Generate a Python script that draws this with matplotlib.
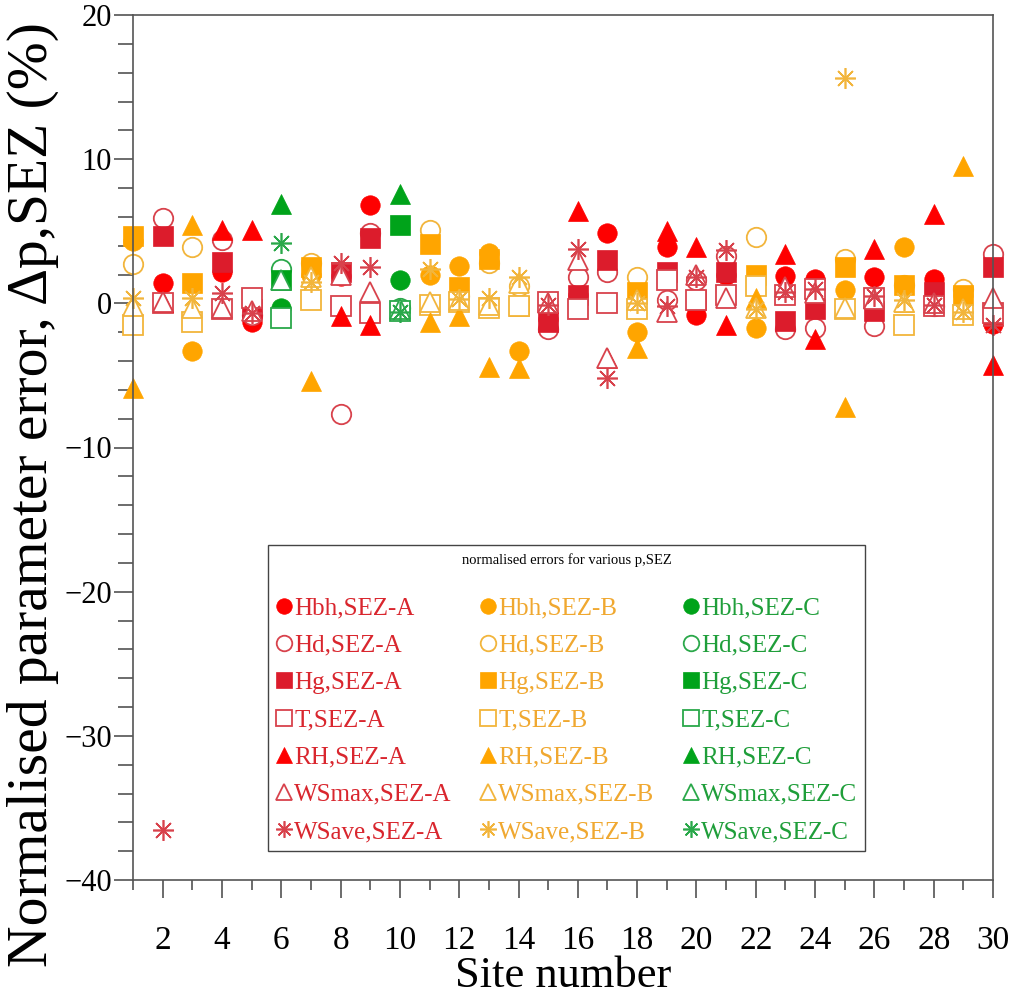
import numpy as np
import matplotlib
matplotlib.use("Agg")
import matplotlib.pyplot as plt
from matplotlib.ticker import MultipleLocator

nan = np.nan
sites = list(range(1, 31))
zone = ["B", "A", "B", "A", "A", "C", "B", "A", "A", "C",
        "B", "B", "B", "B", "A", "A", "A", "B", "A", "A",
        "A", "B", "A", "A", "B", "A", "B", "A", "B", "A"]

Hbh = [4.3, 1.4, -3.3, 2.2, -1.3, -0.3, 2.0, 1.9, 6.8, 1.6,
       2.0, 2.6, 3.5, -3.3, -1.1, 0.6, 4.9, -2.0, 3.9, -0.8,
       2.0, -1.7, 1.9, 1.7, 0.9, 1.8, 3.9, 1.7, 0.6, -1.4]
Hd = [2.7, 5.9, 3.9, 4.4, -0.8, 2.4, 2.8, -7.7, 4.9, -0.3,
      5.1, 0.5, 2.8, 1.2, -1.8, 1.8, 2.2, 1.8, 0.2, 1.6,
      3.3, 4.6, -1.8, -1.7, 3.1, -1.6, 1.3, -0.2, 1.0, 3.4]
Hg = [4.7, 4.7, 1.4, 2.9, -0.4, 1.6, 2.5, 2.2, 4.5, 5.4,
      4.1, 1.1, 3.1, -0.2, -1.3, 0.6, 3.0, 0.8, 2.2, 0.2,
      2.2, 2.0, -1.2, -0.4, 2.5, -0.5, 1.3, 0.8, 0.6, 2.5]
T = [-1.5, 0.0, -1.3, -0.4, 0.4, -1.0, 0.2, -0.2, -0.7, -0.5,
     -0.1, 0.1, -0.3, -0.2, 0.1, -0.4, 0.0, -0.4, 1.6, 0.2,
     0.6, 1.2, 0.6, 1.0, -0.4, 0.4, -1.5, -0.2, -0.8, -0.7]
RH = [-5.9, 0.1, 5.4, 5.1, 5.1, 6.9, -5.4, -0.9, -1.5, 7.6,
      -1.3, -0.9, -4.4, -4.5, 0.0, 6.4, -3.8, -3.1, 5.0, 3.9,
      -1.5, 0.4, 3.4, -2.5, -7.2, 3.8, 0.1, 6.2, 9.5, -4.3]
WSmax = [-0.2, 0.1, -0.3, -0.3, -0.5, 1.6, 1.8, 2.0, 0.8, -0.4,
         0.1, 0.2, -0.1, 1.4, 0.0, 3.0, -3.8, 0.2, -0.6, 2.0,
         0.4, -0.3, 1.1, 0.7, -0.3, 0.3, 0.1, 0.0, -0.4, 0.4]
WSave = [0.4, -36.5, 0.4, 0.7, -0.7, 4.2, 1.5, 2.8, 2.5, -0.6,
         2.4, 0.3, 0.4, 1.8, -0.1, 3.8, -5.2, 0.0, -0.2, 1.8,
         3.7, -0.4, 0.8, 1.0, 15.6, 0.5, 0.2, -0.1, -0.6, -1.5]

params = ["Hbh", "Hd", "Hg", "T", "RH", "WSmax", "WSave"]
param_values = [Hbh, Hd, Hg, T, RH, WSmax, WSave]
zones = ["A", "B", "C"]

# styles
markers = {"Hbh": "o", "Hd": "o", "Hg": "s", "T": "s", "RH": "^", "WSmax": "^",
           "WSave": (8, 2, 0)}
filled = {"Hbh": True, "Hd": False, "Hg": True, "T": False, "RH": True,
          "WSmax": False, "WSave": False}
fill_col = {"A": "#fe0000", "B": "#ffa500", "C": "#00a31a"}
sq_col = {"A": "#dc1c2c", "B": "#ffa500", "C": "#00a31a"}
open_col = {"A": "#d8424c", "B": "#f2b53c", "C": "#2aa84a"}
text_col = {"A": "#d9262e", "B": "#f0a830", "C": "#1f9e3a"}

serif = ["Liberation Serif", "DejaVu Serif"]
plt.rcParams["font.family"] = serif

fig = plt.figure(figsize=(10.16, 9.99), dpi=100)
ax = fig.add_axes([133 / 1016, 1 - 880 / 999, 860 / 1016, 865 / 999])

x = np.array(sites)
zone_arr = np.array(zone)
handles = {}
for z in zones:
    for p, vals in zip(params, param_values):
        v = np.array(vals, dtype=float)
        y = np.where(zone_arr == z, v, np.nan)
        if filled[p]:
            c = sq_col[z] if p == "Hg" else fill_col[z]
            kw = dict(markerfacecolor=c, markeredgecolor=c, markeredgewidth=0.5)
        elif p == "WSave":
            kw = dict(markerfacecolor="none", markeredgecolor=open_col[z], markeredgewidth=1.2)
        else:
            kw = dict(markerfacecolor="white", markeredgecolor=open_col[z], markeredgewidth=1.3)
        ms = 15 if p == "WSave" else 14
        h, = ax.plot(x, y, linestyle="none", marker=markers[p], markersize=ms,
                     clip_on=False, label=f"{p},SEZ-{z}", **kw)
        handles[(z, p)] = h

ax.set_xlim(1, 30)
ax.set_ylim(-40, 20)
ax.xaxis.set_minor_locator(MultipleLocator(1))
ax.yaxis.set_major_locator(MultipleLocator(10))
ax.yaxis.set_minor_locator(MultipleLocator(2))
ax.set_xticks(list(range(2, 31, 2)))
ax.set_xticklabels([str(i) for i in range(2, 31, 2)])

for s in ax.spines.values():
    s.set_color("#555555")
    s.set_linewidth(1.2)
ax.tick_params(axis="y", which="major", direction="out", length=14, width=1.1,
               color="#444444", pad=1, labelsize=22)
ax.tick_params(axis="y", which="minor", direction="out", length=11, width=1.1,
               color="#444444")
ax.tick_params(axis="x", which="major", direction="out", length=13, width=1.1,
               color="#444444", pad=20, labelsize=24)
ax.tick_params(axis="x", which="minor", direction="out", length=7, width=1.1,
               color="#444444")

ax.set_xlabel("Site number", fontsize=32, va="baseline")
ax.xaxis.set_label_coords(0.5, (880 - 987) / 865)
ylab = ax.set_ylabel("Normalised parameter error, \u0394p,SEZ (%)", fontsize=36, va="center")
ax.yaxis.set_label_coords((33 - 133) / 860, (880 - 495) / 865)

# fit the y label to the span it covers in the reference (about 950 px)
fig.canvas.draw()
r = fig.canvas.get_renderer()
h_now = ylab.get_window_extent(r).height
ylab.set_fontsize(36 * 945 / h_now)

leg_handles = [handles[(z, p)] for z in zones for p in params]
leg_labels = [f"{p},SEZ-{z}" for z in zones for p in params]
leg_colors = [text_col[z] for z in zones for p in params]
leg = ax.legend(leg_handles, leg_labels, ncol=3, loc="upper left",
                bbox_to_anchor=(0.157, 0.387, 0.694, 0.0), mode="expand",
                title="normalised errors for various p,SEZ",
                title_fontsize=10.5, fontsize=18, labelcolor=leg_colors,
                markerscale=0.8, handlelength=0.7, handletextpad=0.05,
                labelspacing=0.59, columnspacing=0.5, borderaxespad=0,
                borderpad=0.3, fancybox=False, framealpha=1,
                edgecolor="#444444")
leg.get_frame().set_linewidth(1.0)
leg._legend_box.sep = 22

fig.savefig("out.png", dpi=100)
